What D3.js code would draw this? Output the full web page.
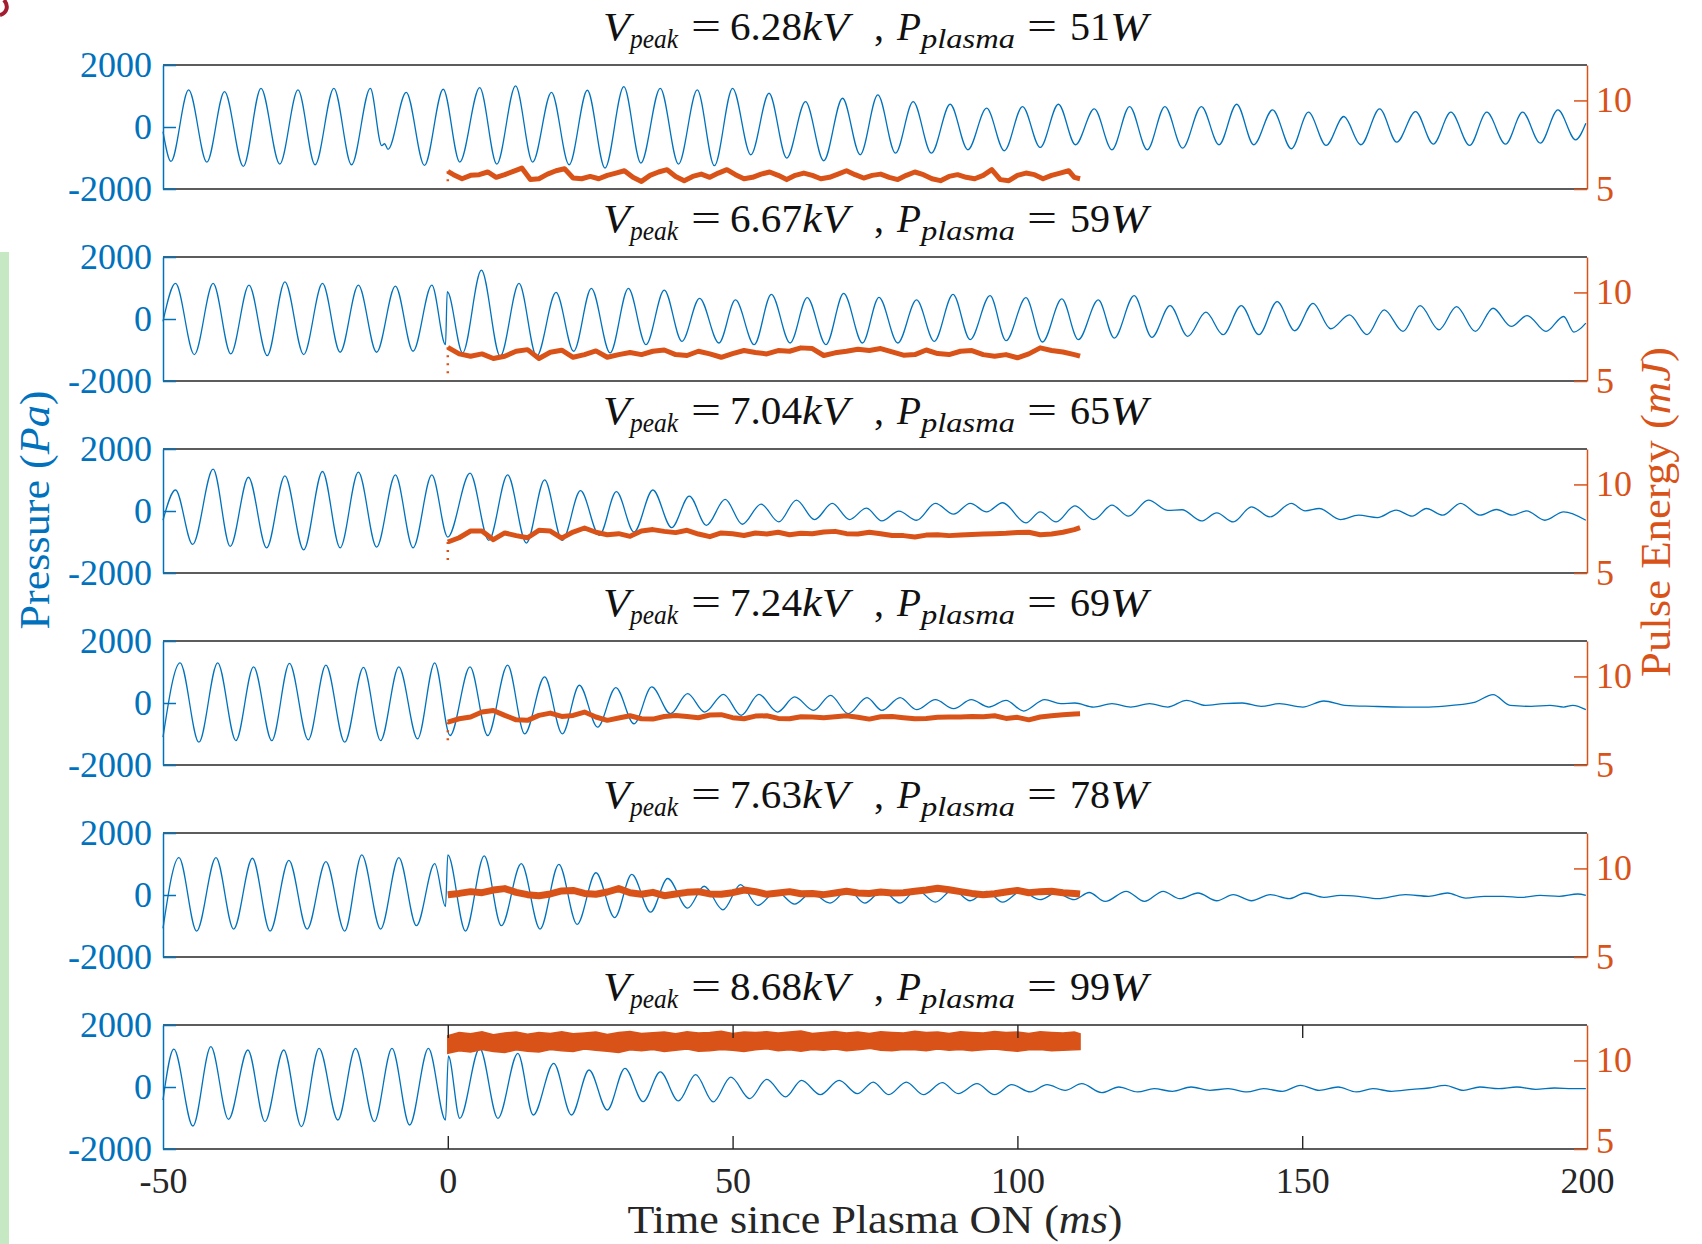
<!DOCTYPE html>
<html>
<head>
<meta charset="utf-8">
<script src="https://cdn.jsdelivr.net/npm/d3@7"></script>
<style>
  html, body { margin: 0; padding: 0; background: #fff; }
  svg { display: block; }
</style>
</head>
<body>
<div id="chart"></div>
<script>
// ---- values ----
const vPeak = ["6.28", "6.67", "7.04", "7.24", "7.63", "8.68"];
const pPlasma = ["51", "59", "65", "69", "78", "99"];

const pressureTicks = [-2000, 0, 2000];
const energyTicks = [5, 10];
const timeTicks = [-50, 0, 50, 100, 150, 200];

// pressure extrema [time ms, Pa]
const pressure1 = [[-50.0,-150],[-48.6,-1110],[-45.5,1195],[-42.3,-1131],[-39.2,1142],[-35.9,-1270],[-32.8,1249],[-29.5,-1195],[-26.3,1195],[-23.3,-1217],[-20.0,1249],[-16.9,-1217],[-13.6,1249],[-11.6,-600],[-11.1,-540],[-10.5,-720],[-7.3,1120],[-4.1,-1238],[-0.8,1217],[2.1,-1131],[5.6,1270],[8.6,-1195],[11.9,1324],[14.9,-1131],[18.2,1120],[21.3,-1217],[24.5,1185],[27.6,-1324],[30.9,1302],[33.9,-1163],[37.3,1249],[40.5,-1195],[43.8,1195],[46.8,-1249],[50.0,1249],[53.2,-895],[56.4,1088],[59.5,-1002],[62.8,820],[66.0,-1088],[69.3,927],[72.4,-895],[75.5,1034],[78.6,-842],[81.7,820],[84.9,-842],[88.2,734],[91.3,-734],[94.6,606],[97.7,-766],[100.9,659],[104.0,-659],[107.2,734],[110.2,-573],[113.5,584],[116.6,-734],[119.7,659],[122.8,-734],[125.9,659],[129.0,-681],[132.3,659],[135.4,-573],[138.5,734],[141.5,-573],[144.8,552],[148.1,-702],[151.1,477],[154.2,-595],[157.3,338],[160.3,-573],[163.6,584],[166.6,-488],[169.9,498],[173.0,-552],[176.1,477],[179.4,-595],[182.4,477],[185.7,-552],[188.7,477],[191.8,-520],[194.9,552],[198.0,-413],[199.8,120]];
const pressure2 = [[-50.0,-80],[-47.8,1147],[-44.5,-1147],[-41.2,1147],[-38.1,-1126],[-34.9,1094],[-31.7,-1179],[-28.6,1200],[-25.3,-1147],[-22.0,1147],[-18.9,-1072],[-15.7,1094],[-12.5,-1072],[-9.2,1062],[-6.1,-1040],[-2.8,1094],[-0.4,-827],[-0.1,880],[2.6,-1094],[5.9,1574],[9.2,-1200],[12.5,1147],[15.6,-1200],[19.0,859],[22.1,-1040],[25.2,987],[28.5,-1094],[31.7,987],[34.8,-827],[38.0,934],[41.1,-720],[44.2,667],[47.6,-774],[50.5,614],[53.8,-827],[56.8,795],[60.1,-774],[63.1,688],[66.4,-827],[69.5,827],[72.8,-774],[75.7,700],[79.0,-774],[82.3,614],[85.4,-720],[88.7,795],[91.7,-667],[95.2,752],[98.0,-699],[101.5,688],[104.4,-742],[107.8,646],[110.7,-667],[114.2,614],[117.0,-614],[120.5,752],[123.6,-592],[126.8,432],[129.9,-560],[133.1,219],[136.1,-507],[139.3,432],[142.4,-507],[145.6,560],[148.7,-379],[151.9,507],[155.0,-315],[158.3,133],[161.4,-507],[164.4,293],[167.7,-400],[170.7,432],[174.0,-347],[177.1,400],[180.4,-400],[183.5,347],[186.7,-240],[189.5,112],[192.8,-400],[195.9,80],[197.7,-421],[199.8,-133]];
const pressure3 = [[-50.0,-298],[-47.8,678],[-44.8,-1079],[-41.2,1350],[-38.2,-1144],[-35.0,1089],[-31.8,-1187],[-28.6,1133],[-25.3,-1252],[-22.0,1274],[-18.9,-1187],[-15.7,1252],[-12.5,-1165],[-9.2,1165],[-6.1,-1187],[-2.8,1165],[0.0,-840],[3.9,1220],[7.2,-949],[10.5,1165],[13.8,-1035],[17.0,1003],[20.1,-949],[23.3,656],[26.6,-786],[29.6,623],[32.7,-678],[36.0,678],[39.3,-537],[42.4,482],[45.4,-461],[48.7,374],[51.7,-428],[55.0,222],[58.1,-352],[61.2,352],[64.4,-276],[67.5,244],[70.5,-276],[73.5,90],[76.2,-320],[79.2,-5],[82.3,-298],[85.6,244],[88.8,-103],[91.7,244],[94.6,-27],[97.4,266],[101.5,-385],[104.0,-27],[106.8,-352],[110.1,168],[113.4,-276],[116.6,190],[119.5,-168],[123.0,352],[126.4,20],[128.9,40],[132.3,-320],[135.0,-60],[137.9,-352],[141.1,136],[144.3,-190],[148.1,244],[150.5,5],[153.0,81],[156.7,-276],[159.9,-136],[163.2,-211],[166.5,27],[169.3,-168],[171.8,81],[174.7,-136],[177.8,244],[181.2,-136],[184.1,49],[186.9,-136],[189.4,5],[192.6,-298],[195.9,-27],[199.8,-298]];
const pressure4 = [[-50.0,-1103],[-47.0,1297],[-43.7,-1265],[-40.4,1297],[-37.2,-1211],[-34.1,1167],[-30.9,-1211],[-27.8,1276],[-24.5,-1189],[-21.4,1222],[-18.1,-1265],[-14.8,1146],[-11.8,-1211],[-8.6,1167],[-5.3,-1157],[-2.3,1297],[0.4,-1049],[3.9,1167],[7.0,-1049],[10.5,1222],[13.5,-995],[17.0,843],[20.1,-995],[23.1,573],[26.3,-778],[29.5,497],[32.7,-670],[35.8,519],[39.1,-346],[42.1,303],[45.1,-292],[48.4,281],[51.5,-400],[54.6,281],[57.9,-292],[60.9,195],[64.2,-238],[67.2,249],[70.3,-346],[73.6,173],[76.2,-238],[79.4,173],[82.3,-216],[85.6,108],[88.8,-184],[91.9,108],[95.0,-130],[98.0,86],[101.1,-259],[104.8,108],[107.6,-22],[110.1,0],[113.4,-130],[116.6,-22],[119.9,-130],[123.2,-22],[126.4,-130],[129.7,86],[133.0,-76],[136.2,-22],[139.5,0],[142.8,-108],[146.0,-22],[150.1,-130],[153.8,65],[157.5,-76],[162.4,-108],[168.1,-130],[172.2,-130],[176.3,-76],[180.4,32],[183.5,270],[186.5,-76],[190.2,-108],[193.5,-76],[195.9,-130],[197.5,-76],[199.8,-216]];
const pressure5 = [[-50.0,-1076],[-47.2,1207],[-44.1,-1163],[-40.7,1207],[-37.6,-1098],[-34.3,1185],[-31.2,-1163],[-27.9,1120],[-24.7,-1098],[-21.4,1076],[-18.1,-1163],[-15.1,1294],[-11.8,-1098],[-8.6,1207],[-5.5,-989],[-2.3,1011],[-0.4,-370],[0.0,1294],[3.1,-1163],[6.4,1261],[9.4,-989],[12.9,1011],[16.2,-1098],[19.5,989],[22.7,-946],[26.0,717],[29.3,-728],[32.3,663],[35.6,-554],[38.6,533],[42.1,-424],[45.0,283],[48.3,-478],[51.4,337],[54.4,-337],[57.7,120],[60.9,-293],[63.8,65],[67.1,-261],[70.3,174],[73.2,-261],[76.3,150],[79.4,-261],[82.3,174],[85.6,-228],[88.7,174],[91.7,-185],[94.6,120],[97.4,-228],[100.7,120],[104.0,-152],[106.8,65],[110.0,-150],[112.6,80],[115.4,-207],[119.1,120],[122.3,-207],[125.6,120],[128.5,-120],[131.7,65],[135.0,-185],[137.9,11],[141.1,-185],[144.4,11],[147.7,-120],[150.5,65],[153.8,-76],[156.7,-11],[159.9,-43],[163.2,-120],[168.1,11],[172.2,-43],[175.5,65],[178.7,-98],[182.0,-43],[185.3,-43],[188.5,-76],[191.8,-11],[195.1,-43],[198.4,33],[199.8,-11]];
const pressure6 = [[-50.0,-420],[-48.1,1220],[-44.75,-1258],[-41.6,1301],[-38.5,-1043],[-35.1,1194],[-32.1,-1118],[-28.8,1194],[-25.7,-1280],[-22.6,1248],[-19.3,-1065],[-16.2,1248],[-12.9,-1118],[-9.8,1248],[-6.7,-1226],[-3.4,1248],[-0.4,-1065],[0.1,1000],[2.1,-1010],[5.6,1248],[8.8,-1010],[12.3,1087],[15.0,-903],[18.6,764],[21.7,-903],[24.8,548],[28.0,-742],[31.1,602],[34.3,-473],[37.3,490],[40.5,-450],[43.5,396],[46.6,-481],[49.7,321],[53.0,-374],[56.0,246],[59.3,-321],[62.1,214],[65.4,-246],[68.7,214],[71.9,-214],[74.7,160],[77.4,-246],[80.5,160],[83.5,-246],[86.8,139],[89.6,-214],[92.9,107],[96.0,-246],[99.0,75],[102.3,-160],[105.2,75],[108.4,-107],[111.3,107],[114.8,-182],[117.8,0],[121.1,-160],[124.0,-54],[127.2,-139],[130.5,0],[133.8,-107],[137.0,-54],[140.3,-160],[143.2,-54],[146.5,-139],[149.7,54],[153.0,-107],[156.3,0],[159.5,-160],[162.4,-54],[165.7,-139],[169.3,-75],[172.2,-32],[175.1,54],[178.3,-107],[181.2,0],[184.5,-54],[187.7,0],[191.0,-75],[194.3,-32],[197.5,-54],[199.8,-54]];

// pulse energy (mJ)
const energy1Time = [0,1,2.5,4,5.5,7,8.5,10,11.5,13,14.5,16,17.5,19,20.5,22,23.5,25,26.5,28,29.5,31,32.5,34,35.5,37,38.5,40,41.5,43,44.5,46,47.5,49,50.5,52,53.5,55,56.5,58,59.5,61,62.5,64,65.5,67,68.5,70,71.5,73,74.5,76,77.5,79,80.5,82,83.5,85,86.5,88,89.5,91,92.5,94,95.5,97,98.5,100,101.5,103,104.5,106,107.5,109,110,111];
const energy1 = [6.00,5.81,5.58,5.77,5.81,5.96,5.66,5.81,5.99,6.18,5.53,5.58,5.84,6.03,6.14,5.62,5.58,5.71,5.58,5.77,5.90,6.03,5.66,5.43,5.77,5.96,6.09,5.71,5.47,5.71,5.84,5.66,5.90,6.09,5.81,5.58,5.66,5.84,5.96,5.77,5.53,5.77,5.90,5.77,5.58,5.66,5.84,6.03,5.81,5.62,5.77,5.84,5.66,5.53,5.77,5.96,5.81,5.58,5.47,5.71,5.81,5.66,5.58,5.77,6.09,5.53,5.47,5.77,5.90,5.81,5.58,5.77,5.90,6.03,5.66,5.58];
const energyTime = [0,2,4,6,8,10,12,14,16,18,20,22,24,26,28,30,32,34,36,38,40,42,44,46,48,50,52,54,56,58,60,62,64,66,68,70,72,74,76,78,80,82,84,86,88,90,92,94,96,98,100,102,104,106,108,110,111];
const energy2 = [6.90,6.53,6.40,6.53,6.27,6.40,6.68,6.77,6.27,6.62,6.74,6.34,6.49,6.70,6.34,6.49,6.61,6.49,6.68,6.75,6.49,6.44,6.68,6.53,6.34,6.55,6.72,6.61,6.53,6.72,6.68,6.87,6.83,6.44,6.59,6.68,6.79,6.72,6.83,6.64,6.46,6.49,6.75,6.55,6.49,6.68,6.72,6.49,6.40,6.49,6.31,6.53,6.87,6.72,6.64,6.49,6.40];
const energy3 = [6.75,6.99,7.37,7.37,6.88,7.26,7.11,6.99,7.41,7.37,6.97,7.31,7.54,7.30,7.16,7.22,7.07,7.37,7.45,7.35,7.28,7.41,7.20,7.05,7.26,7.22,7.12,7.26,7.20,7.30,7.16,7.24,7.22,7.31,7.35,7.22,7.20,7.30,7.22,7.12,7.11,7.03,7.14,7.16,7.11,7.14,7.18,7.20,7.22,7.24,7.28,7.30,7.16,7.20,7.30,7.45,7.56];
const energy4 = [7.42,7.61,7.71,7.99,8.08,7.80,7.55,7.52,7.80,7.93,7.74,7.80,7.99,7.71,7.52,7.65,7.78,7.61,7.59,7.74,7.80,7.74,7.67,7.82,7.84,7.67,7.61,7.76,7.78,7.63,7.61,7.72,7.71,7.67,7.72,7.78,7.69,7.59,7.72,7.74,7.67,7.61,7.63,7.69,7.71,7.71,7.74,7.72,7.78,7.63,7.69,7.55,7.71,7.78,7.84,7.88,7.89];
const energy5 = [8.52,8.59,8.69,8.63,8.78,8.86,8.65,8.52,8.46,8.56,8.73,8.76,8.59,8.54,8.67,8.86,8.63,8.54,8.65,8.46,8.56,8.65,8.69,8.56,8.54,8.63,8.78,8.69,8.54,8.61,8.69,8.57,8.59,8.52,8.61,8.71,8.61,8.59,8.67,8.61,8.63,8.71,8.78,8.88,8.80,8.69,8.59,8.52,8.57,8.67,8.76,8.63,8.69,8.71,8.63,8.59,8.56];
const energy6Hi = [11.40,11.58,11.50,11.62,11.45,11.55,11.60,11.48,11.58,11.52,11.62,11.50,11.55,11.60,11.47,11.58,11.63,11.52,11.56,11.60,11.50,11.62,11.55,11.58,11.65,11.52,11.60,11.57,11.62,11.55,11.60,11.66,11.52,11.58,11.63,11.55,11.60,11.52,11.62,11.58,11.55,11.65,11.58,11.60,11.52,11.62,11.58,11.55,11.63,11.57,11.60,11.52,11.62,11.58,11.55,11.60,11.50];
const energy6Lo = [10.40,10.55,10.48,10.62,10.50,10.45,10.60,10.52,10.48,10.62,10.55,10.50,10.65,10.58,10.52,10.45,10.60,10.55,10.62,10.50,10.58,10.65,10.52,10.55,10.62,10.58,10.50,10.60,10.66,10.55,10.60,10.52,10.62,10.58,10.65,10.55,10.60,10.68,10.58,10.55,10.62,10.60,10.55,10.65,10.58,10.62,10.55,10.60,10.65,10.58,10.52,10.60,10.62,10.55,10.58,10.60,10.62];
// lowest stray energy dots at plasma ignition (t = 0)
const energyStartLow = [5.1, 5.1, 5.6, 6.2, null, null];

// ---- layout ----
const W = 1702, H = 1244;
const panelTop0 = 65, panelStep = 192, panelH = 124;
const blue = "#0072BD", orange = "#D95319", dark = "#262626";
const serif = "'Liberation Serif', 'Times New Roman', serif";

const panels = [
    { vp: vPeak[0], pp: pPlasma[0], pressure: pressure1, eTime: energy1Time, energy: energy1 },
    { vp: vPeak[1], pp: pPlasma[1], pressure: pressure2, eTime: energyTime, energy: energy2 },
    { vp: vPeak[2], pp: pPlasma[2], pressure: pressure3, eTime: energyTime, energy: energy3 },
    { vp: vPeak[3], pp: pPlasma[3], pressure: pressure4, eTime: energyTime, energy: energy4 },
    { vp: vPeak[4], pp: pPlasma[4], pressure: pressure5, eTime: energyTime, energy: energy5 },
    { vp: vPeak[5], pp: pPlasma[5], pressure: pressure6, eTime: energyTime, lo: energy6Lo, hi: energy6Hi }
];

const svg = d3.select("#chart").append("svg")
    .attr("width", W)
    .attr("height", H)
    .style("font-family", serif);

// page edge leftovers
svg.append("rect")
    .attr("x", 0).attr("y", 252)
    .attr("width", 9).attr("height", H - 252)
    .attr("fill", "#c6e9c4");
svg.append("path")
    .attr("d", "M4,0 C9,6 7,13 0,15")
    .attr("fill", "none")
    .attr("stroke", "#a11d2f")
    .attr("stroke-width", 4);

const x = d3.scaleLinear().domain([-50, 200]).range([163, 1587]);
const xMid = (x.range()[0] + x.range()[1]) / 2;

panels.forEach((p, i) => {
    const top = panelTop0 + i * panelStep;
    const bottom = top + panelH;
    const last = i === panels.length - 1;
    const yL = d3.scaleLinear().domain([-2000, 2000]).range([bottom, top]);
    const yR = d3.scaleLinear().domain([5, 12]).range([bottom, top]);

    // box top / bottom
    [top, bottom].forEach(yy => {
        svg.append("line")
            .attr("x1", x.range()[0]).attr("x2", x.range()[1])
            .attr("y1", yy).attr("y2", yy)
            .attr("stroke", dark).attr("stroke-width", 1.4);
    });

    // pressure trace
    const line = d3.line()
        .x(d => x(d[0]))
        .y(d => yL(d[1]))
        .curve(d3.curveMonotoneX);
    svg.append("path")
        .datum(p.pressure)
        .attr("fill", "none")
        .attr("stroke", blue)
        .attr("stroke-width", 1.3)
        .attr("d", line);

    // pulse energy
    if (p.energy) {
        const pts = p.eTime.map((t, k) => [t, p.energy[k]]).filter(d => d[1] != null);
        if (energyStartLow[i] != null) {
            svg.append("line")
                .attr("x1", x(0)).attr("x2", x(0))
                .attr("y1", yR(pts[0][1])).attr("y2", yR(energyStartLow[i]))
                .attr("stroke", orange).attr("stroke-width", 2.5)
                .attr("stroke-dasharray", "2,6");
        }
        svg.append("path")
            .datum(pts)
            .attr("fill", "none")
            .attr("stroke", orange)
            .attr("stroke-width", i === 4 ? 7 : 5)
            .attr("stroke-linejoin", "round")
            .attr("d", d3.line().x(d => x(d[0])).y(d => yR(d[1])));
    } else {
        const band = p.eTime.map((t, k) => ({ t, lo: p.lo[k], hi: p.hi[k] }));
        svg.append("path")
            .datum(band)
            .attr("fill", orange)
            .attr("stroke", orange)
            .attr("stroke-width", 1.5)
            .attr("d", d3.area().x(d => x(d.t)).y0(d => yR(d.lo)).y1(d => yR(d.hi)));
    }

    // left axis
    svg.append("g")
        .attr("transform", `translate(${x.range()[0]},0)`)
        .call(d3.axisLeft(yL).tickValues(pressureTicks).tickSize(-13).tickSizeOuter(0)
            .tickPadding(11).tickFormat(d => String(d)))
        .call(g => {
            g.select(".domain").attr("stroke", blue).attr("stroke-width", 1.5);
            g.selectAll(".tick line").attr("stroke", blue).attr("stroke-width", 1.5);
            g.selectAll(".tick text").attr("fill", blue)
                .style("font-family", serif).style("font-size", "36px");
        });

    // right axis
    svg.append("g")
        .attr("transform", `translate(${x.range()[1]},0)`)
        .call(d3.axisRight(yR).tickValues(energyTicks).tickSize(-13).tickSizeOuter(0)
            .tickPadding(9).tickFormat(d => String(d)))
        .call(g => {
            g.select(".domain").attr("stroke", orange).attr("stroke-width", 1.5);
            g.selectAll(".tick line").attr("stroke", orange).attr("stroke-width", 1.5);
            g.selectAll(".tick text").attr("fill", orange)
                .style("font-family", serif).style("font-size", "36px")
                .attr("dy", d => (last && d === 5) ? "0.1em" : "0.32em");
        });

    // title
    const title = svg.append("g").attr("transform", `translate(${xMid},${top - 25})`);
    const pieces = [
        { s: "V", x: -272, w: 27, it: true },
        { s: "peak", x: -245, w: 48, it: true, sub: true },
        { s: "=", x: -184, w: 30 },
        { s: p.vp, x: -145, w: 72 },
        { s: "kV", x: -73, w: 47, it: true },
        { s: ",", x: -1 },
        { s: "P", x: 22, w: 24, it: true },
        { s: "plasma", x: 46, w: 94, it: true, sub: true },
        { s: "=", x: 152, w: 30 },
        { s: p.pp, x: 195, w: 40 },
        { s: "W", x: 235, w: 38, it: true }
    ];
    pieces.forEach(c => {
        const t = title.append("text")
            .attr("x", c.x)
            .attr("y", c.sub ? 8 : 0)
            .attr("fill", "#111")
            .style("font-size", c.sub ? "28px" : "40px")
            .style("font-style", c.it ? "italic" : "normal")
            .text(c.s);
        if (c.w) t.attr("textLength", c.w).attr("lengthAdjust", "spacingAndGlyphs");
    });

    // time ticks only on the last panel
    if (last) {
        svg.append("g")
            .attr("transform", `translate(0,${bottom})`)
            .call(d3.axisBottom(x).tickValues(timeTicks).tickSize(-13).tickSizeOuter(0)
                .tickPadding(18).tickFormat(d => String(d)))
            .call(g => {
                g.select(".domain").remove();
                g.selectAll(".tick line")
                    .attr("stroke", dark).attr("stroke-width", 1.4)
                    .attr("display", d => (d === -50 || d === 200) ? "none" : null);
                g.selectAll(".tick text").attr("fill", dark)
                    .style("font-family", serif).style("font-size", "36px");
            });
        svg.append("g")
            .attr("transform", `translate(0,${top})`)
            .call(d3.axisTop(x).tickValues(timeTicks.slice(1, -1)).tickSize(-13).tickSizeOuter(0)
                .tickFormat(""))
            .call(g => {
                g.select(".domain").remove();
                g.selectAll(".tick line").attr("stroke", dark).attr("stroke-width", 1.4);
            });
    }
});

// axis labels
const xLabel = svg.append("text")
    .attr("x", xMid).attr("y", 1233)
    .attr("text-anchor", "middle")
    .attr("fill", dark)
    .attr("textLength", 495).attr("lengthAdjust", "spacingAndGlyphs")
    .style("font-size", "39px");
xLabel.append("tspan").text("Time since Plasma ON (");
xLabel.append("tspan").style("font-style", "italic").text("ms");
xLabel.append("tspan").text(")");

const yLabel = svg.append("text")
    .attr("transform", "translate(49,510) rotate(-90)")
    .attr("text-anchor", "middle")
    .attr("fill", blue)
    .attr("textLength", 239).attr("lengthAdjust", "spacingAndGlyphs")
    .style("font-size", "42px");
yLabel.append("tspan").text("Pressure (");
yLabel.append("tspan").style("font-style", "italic").text("Pa");
yLabel.append("tspan").text(")");

const y2Label = svg.append("text")
    .attr("transform", "translate(1670,512) rotate(-90)")
    .attr("text-anchor", "middle")
    .attr("fill", orange)
    .attr("textLength", 330).attr("lengthAdjust", "spacingAndGlyphs")
    .style("font-size", "42px");
y2Label.append("tspan").text("Pulse Energy (");
y2Label.append("tspan").style("font-style", "italic").text("mJ");
y2Label.append("tspan").text(")");
</script>
</body>
</html>
